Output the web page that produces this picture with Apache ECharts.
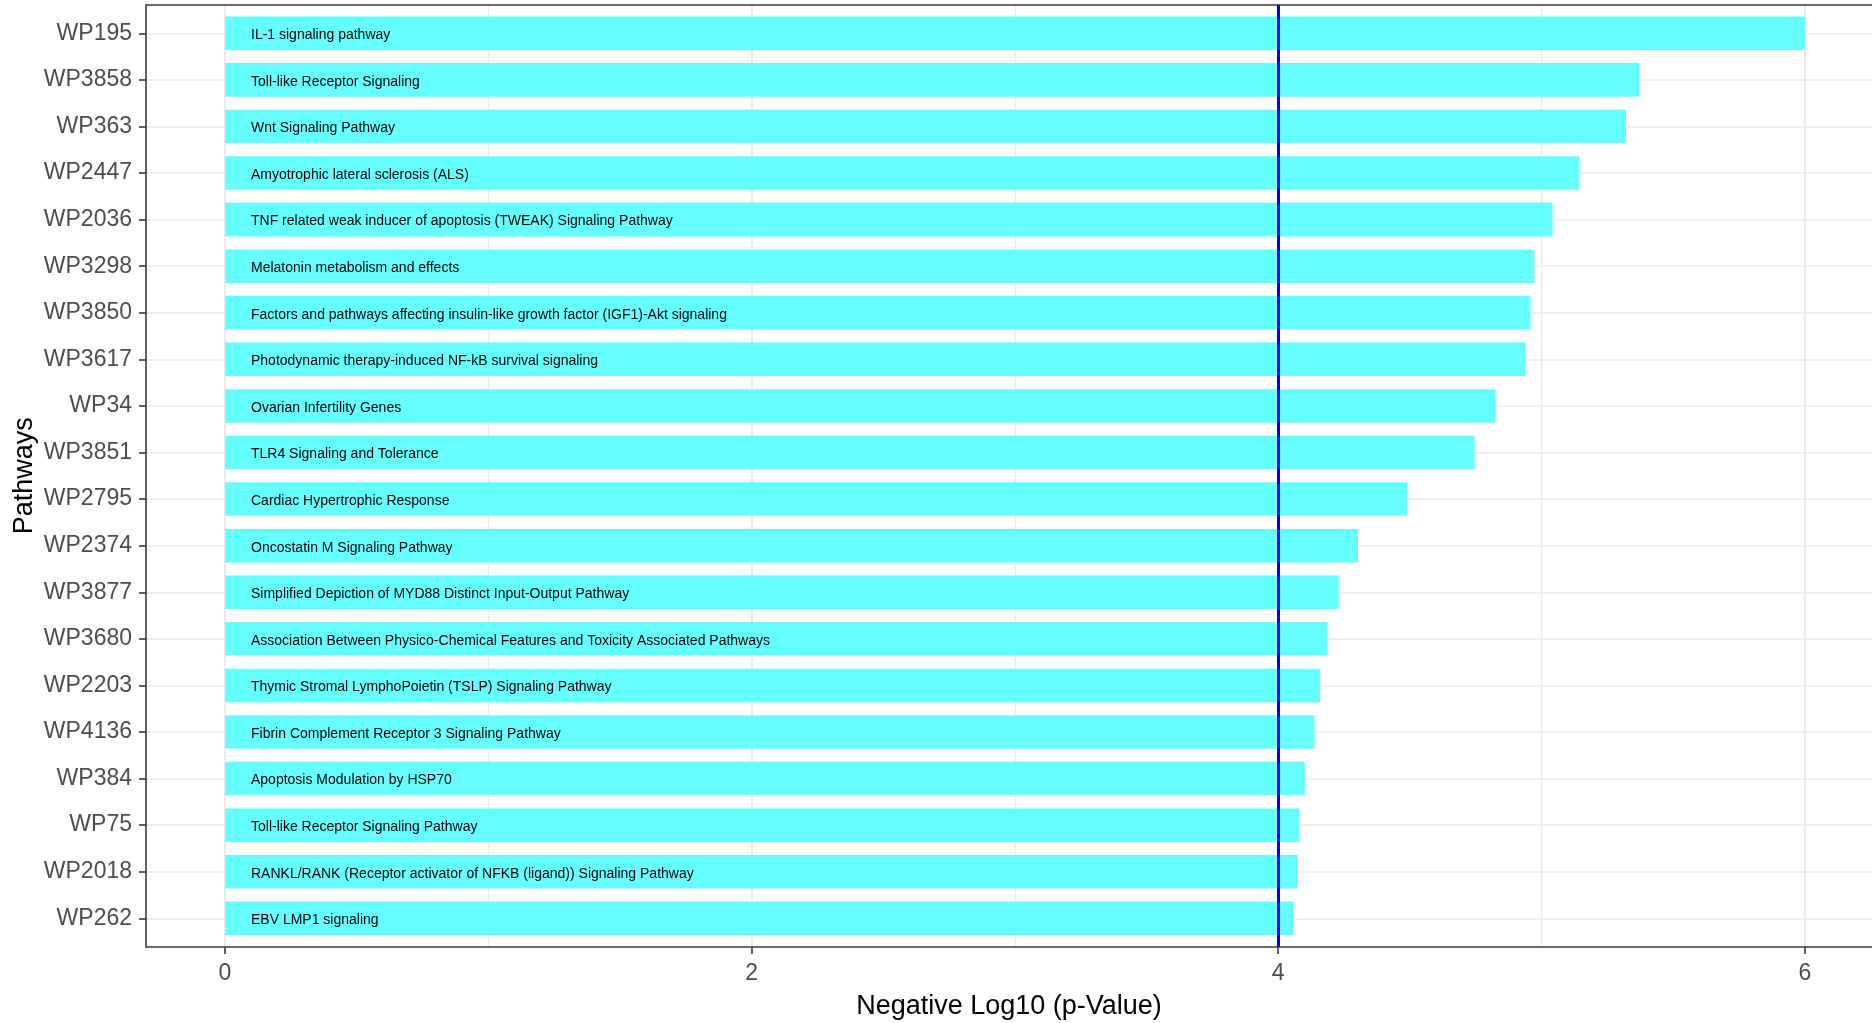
<!DOCTYPE html>
<html>
<head>
<meta charset="utf-8">
<title>Pathways</title>
<script src="https://cdn.jsdelivr.net/npm/echarts@6/dist/echarts.min.js"></script>
<style>
  html, body { margin: 0; padding: 0; background: #ffffff; overflow: hidden; }
  #chart { width: 1872px; height: 1023px; }
</style>
</head>
<body>
<div id="chart"></div>
<script>
// WikiPathways identifiers, top to bottom
const pathwayIds = [
  'WP195', 'WP3858', 'WP363', 'WP2447', 'WP2036', 'WP3298', 'WP3850',
  'WP3617', 'WP34', 'WP3851', 'WP2795', 'WP2374', 'WP3877', 'WP3680',
  'WP2203', 'WP4136', 'WP384', 'WP75', 'WP2018', 'WP262'
];

// Pathway descriptions written inside each bar
const pathwayNames = [
  'IL-1 signaling pathway',
  'Toll-like Receptor Signaling',
  'Wnt Signaling Pathway',
  'Amyotrophic lateral sclerosis (ALS)',
  'TNF related weak inducer of apoptosis (TWEAK) Signaling Pathway',
  'Melatonin metabolism and effects',
  'Factors and pathways affecting insulin-like growth factor (IGF1)-Akt signaling',
  'Photodynamic therapy-induced NF-kB survival signaling',
  'Ovarian Infertility Genes',
  'TLR4 Signaling and Tolerance',
  'Cardiac Hypertrophic Response',
  'Oncostatin M Signaling Pathway',
  'Simplified Depiction of MYD88 Distinct Input-Output Pathway',
  'Association Between Physico-Chemical Features and Toxicity Associated Pathways',
  'Thymic Stromal LymphoPoietin (TSLP) Signaling Pathway',
  'Fibrin Complement Receptor 3 Signaling Pathway',
  'Apoptosis Modulation by HSP70',
  'Toll-like Receptor Signaling Pathway',
  'RANKL/RANK (Receptor activator of NFKB (ligand)) Signaling Pathway',
  'EBV LMP1 signaling'
];

// -log10(p) per pathway
const negLog10P = [
  6.00, 5.370, 5.321, 5.143, 5.042, 4.973, 4.958,
  4.939, 4.825, 4.746, 4.490, 4.303, 4.230, 4.187,
  4.159, 4.138, 4.101, 4.081, 4.073, 4.058
];

// x-axis breaks
const xTickLabels = [0, 2, 4, 6];
const xMajorBreaks = [0, 2, 4, 6];
const xMinorBreaks = [1, 3, 5];
const significanceLine = 4;

const FONT = '"Liberation Sans", Arial, Helvetica, sans-serif';
// the panel is cut by the right edge of the canvas, so the visible range stops short of 6.3
const xMin = -0.3, xMax = 6.255;

const chart = echarts.init(document.getElementById('chart'), null, { renderer: 'canvas' });

const gridLineStyle = { color: '#ebebeb', type: 'solid' };
const frameLine = { show: true, onZero: false, lineStyle: { color: '#3a3a3a', width: 1.6 } };

chart.setOption({
  animation: false,
  backgroundColor: '#ffffff',
  grid: [
    // panel (frame, x axis, vertical grid lines, threshold line)
    { left: 146, right: 0, top: 5, bottom: 76, show: false, containLabel: false, outerBoundsMode: 'none' },
    // bar area (categories inset by the discrete-axis expansion)
    { left: 146, right: 0, top: 10, bottom: 81.4, show: false, containLabel: false, outerBoundsMode: 'none' }
  ],
  xAxis: [
    {
      type: 'value', gridIndex: 0, min: xMin, max: xMax, position: 'bottom',
      name: 'Negative Log10 (p-Value)', nameLocation: 'middle', nameGap: 46, nameMoveOverlap: false,
      nameTextStyle: { fontFamily: FONT, fontSize: 27, color: '#000000' },
      axisLine: frameLine,
      axisTick: { show: true, length: 7, customValues: xTickLabels, lineStyle: { color: '#3a3a3a', width: 1.6 } },
      axisLabel: { show: true, customValues: xTickLabels, margin: 15, fontFamily: FONT, fontSize: 23, color: '#4d4d4d' },
      splitLine: { show: false }
    },
    {
      // top edge of the panel frame
      type: 'value', gridIndex: 0, min: xMin, max: xMax, position: 'top',
      axisLine: frameLine,
      axisTick: { show: false }, axisLabel: { show: false }, splitLine: { show: false }
    },
    {
      type: 'value', gridIndex: 1, min: xMin, max: xMax, show: false,
      splitLine: { show: false }
    }
  ],
  yAxis: [
    {
      // left edge of the panel frame
      type: 'value', gridIndex: 0, min: 0, max: 1, position: 'left',
      axisLine: frameLine,
      axisTick: { show: false }, axisLabel: { show: false }, splitLine: { show: false }
    },
    {
      type: 'category', gridIndex: 1, data: pathwayIds, inverse: true, position: 'left',
      name: 'Pathways', nameLocation: 'middle', nameGap: 108, nameRotate: 90, nameMoveOverlap: false,
      nameTextStyle: { fontFamily: FONT, fontSize: 27, color: '#000000' },
      axisLine: { show: false, onZero: false },
      axisTick: { show: true, alignWithLabel: true, length: 7, lineStyle: { color: '#3a3a3a', width: 1.6 } },
      axisLabel: { margin: 14, fontFamily: FONT, fontSize: 23, color: '#4d4d4d' },
      splitLine: { show: false }
    }
  ],
  series: [
    {
      // vertical grid lines across the panel
      type: 'line', xAxisIndex: 0, yAxisIndex: 0, data: [], z: 0, silent: true,
      markLine: {
        z: 0, silent: true, symbol: 'none', animation: false,
        label: { show: false },
        lineStyle: gridLineStyle,
        data: xMajorBreaks.map(v => ({ xAxis: v, lineStyle: { width: 2 } }))
          .concat(xMinorBreaks.map(v => ({ xAxis: v, lineStyle: { width: 1.4 } })))
      }
    },
    {
      // horizontal grid lines through each category
      type: 'line', xAxisIndex: 2, yAxisIndex: 1, data: [], z: 0, silent: true,
      markLine: {
        z: 0, silent: true, symbol: 'none', animation: false,
        label: { show: false },
        lineStyle: Object.assign({ width: 1.6 }, gridLineStyle),
        data: pathwayIds.map(id => ({ yAxis: id }))
      }
    },
    {
      type: 'bar', xAxisIndex: 2, yAxisIndex: 1, z: 2,
      data: negLog10P,
      barWidth: '72%',
      itemStyle: { color: '#66ffff' },
      label: {
        show: true, position: 'insideLeft', distance: 26, offset: [0, 2],
        fontFamily: FONT, fontSize: 14, color: '#000000',
        formatter: p => pathwayNames[p.dataIndex]
      }
    },
    {
      // significance threshold
      type: 'line', xAxisIndex: 0, yAxisIndex: 0, data: [], z: 5, silent: true,
      markLine: {
        z: 6, silent: true, symbol: 'none', animation: false,
        label: { show: false },
        lineStyle: { color: '#0000ff', width: 3, type: 'solid' },
        data: [{ xAxis: significanceLine }]
      }
    }
  ]
});
</script>
</body>
</html>
